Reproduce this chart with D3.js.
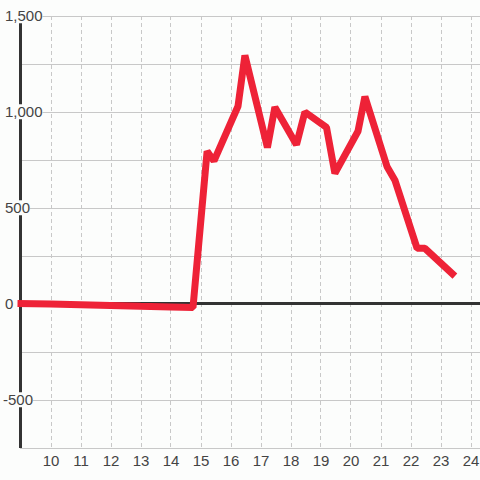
<!DOCTYPE html>
<html>
<head>
<meta charset="utf-8">
<script src="https://cdn.jsdelivr.net/npm/d3@7"></script>
<style>
  html, body { margin: 0; padding: 0; background: #fcfdfc; }
  svg { display: block; }
</style>
</head>
<body>
<div id="chart"></div>
<script>
// data
var hours  = [8.9, 10, 11, 12, 13, 14, 14.75, 15.22, 15.45, 16.25, 16.48, 17.23, 17.48, 18.2, 18.48, 19.2, 19.48, 20.25, 20.48, 21.22, 21.48, 22.22, 22.48, 23.48];
var values = [3, 0, -4, -8, -12, -15, -18, 795, 745, 1030, 1295, 815, 1025, 830, 1000, 920, 680, 900, 1080, 715, 645, 290, 290, 145];
var xTicks = [10, 11, 12, 13, 14, 15, 16, 17, 18, 19, 20, 21, 22, 23, 24];
var yGrid = [-750, -500, -250, 0, 250, 500, 750, 1000, 1250, 1500];
var yLabels = [1500, 1000, 500, 0, -500];

var width = 480, height = 480;
var plotLeft = 20, plotRight = 480, plotTop = 16, plotBottom = 448;
var bg = "#fcfdfc";

var x = d3.scaleLinear().domain([9, 24]).range([20.5, 470.5]);
var y = d3.scaleLinear().domain([-750, 1500]).range([plotBottom, plotTop]);

var svg = d3.select("#chart")
  .append("svg")
    .attr("width", width)
    .attr("height", height);

svg.append("rect")
  .attr("width", width).attr("height", height)
  .attr("fill", bg);

// horizontal grid
svg.append("g")
  .selectAll("line")
  .data(yGrid)
  .enter().append("line")
    .attr("x1", plotLeft).attr("x2", plotRight)
    .attr("y1", function(d) { return Math.round(y(d)) + 0.5; })
    .attr("y2", function(d) { return Math.round(y(d)) + 0.5; })
    .attr("stroke", "#c8c8c8")
    .attr("stroke-width", 1);

// vertical dashed grid
svg.append("g")
  .selectAll("line")
  .data(xTicks)
  .enter().append("line")
    .attr("x1", function(d) { return Math.round(x(d)) + 0.5; })
    .attr("x2", function(d) { return Math.round(x(d)) + 0.5; })
    .attr("y1", plotTop).attr("y2", plotBottom)
    .attr("stroke", "#c8c8c8")
    .attr("stroke-dasharray", "4,3");

// zero line
svg.append("line")
  .attr("x1", plotLeft).attr("x2", plotRight)
  .attr("y1", y(0) - 0.5).attr("y2", y(0) - 0.5)
  .attr("stroke", "#333")
  .attr("stroke-width", 3);

// y axis line
svg.append("line")
  .attr("x1", 20.5).attr("x2", 20.5)
  .attr("y1", plotTop).attr("y2", plotBottom)
  .attr("stroke", "#333")
  .attr("stroke-width", 3);

// series
var line = d3.line()
  .x(function(d, i) { return x(hours[i]); })
  .y(function(d) { return y(d); });

svg.append("path")
  .datum(values)
  .attr("d", line)
  .attr("fill", "none")
  .attr("stroke", "#ee2237")
  .attr("stroke-width", 7)
  .attr("stroke-linejoin", "bevel");

// y labels with background box
var fmt = d3.formatLocale({ decimal: ".", thousands: ",", grouping: [3], currency: ["", ""], minus: "-" }).format(",");
var yl = svg.append("g")
  .selectAll("g")
  .data(yLabels)
  .enter().append("g");

yl.append("text")
  .attr("x", function(d) { return d < 0 ? 3 : 5; })
  .attr("y", function(d) { return y(d); })
  .attr("dy", "0.35em")
  .attr("font-family", "Liberation Sans, Arial, sans-serif")
  .attr("font-size", 15)
  .attr("fill", "#444")
  .text(function(d) { return fmt(d); });

yl.each(function() {
  var g = d3.select(this);
  var b = g.select("text").node().getBBox();
  g.insert("rect", "text")
    .attr("x", b.x).attr("y", b.y + 1)
    .attr("width", b.width).attr("height", b.height - 2)
    .attr("fill", bg);
});

// x labels
svg.append("g")
  .selectAll("text")
  .data(xTicks)
  .enter().append("text")
    .attr("x", function(d) { return x(d) + 0.5; })
    .attr("y", 466)
    .attr("text-anchor", "middle")
    .attr("font-family", "Liberation Sans, Arial, sans-serif")
    .attr("font-size", 15)
    .attr("fill", "#444")
    .text(function(d) { return d; });
</script>
</body>
</html>
